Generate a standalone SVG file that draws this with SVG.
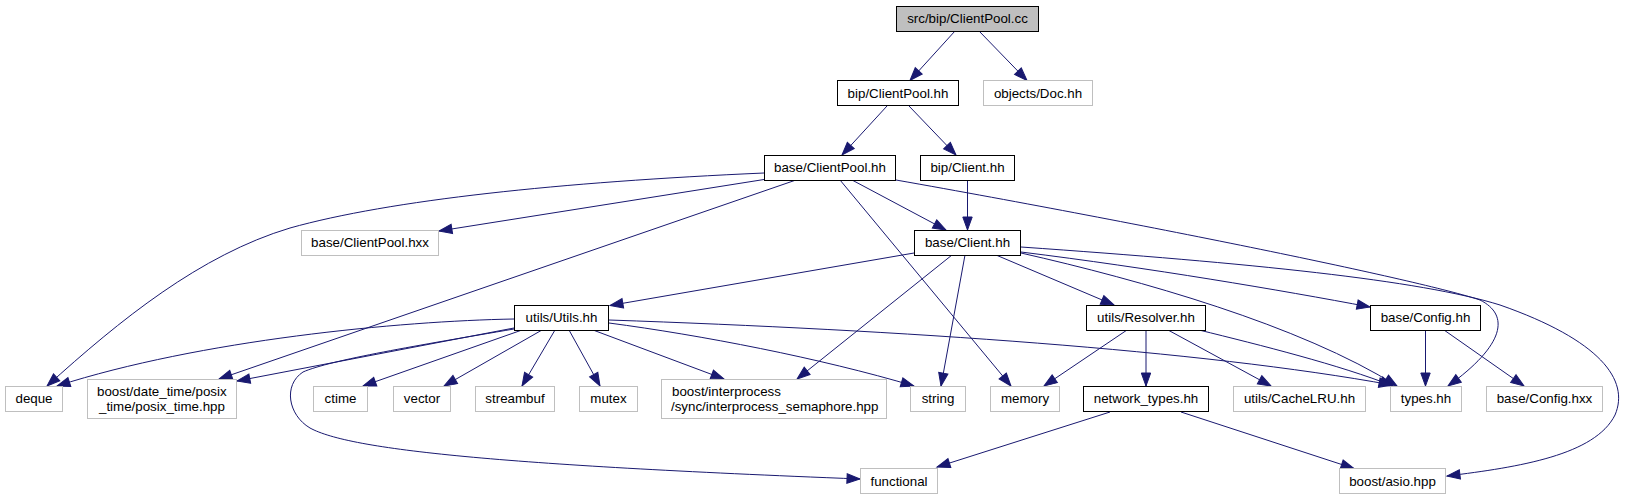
<svg xmlns="http://www.w3.org/2000/svg" width="1628" height="500" viewBox="0 0 1628 500">
<style>
.n rect{fill:#fff;stroke:#000;stroke-width:1}
.u rect{fill:#fff;stroke:#bfbfbf;stroke-width:1}
.root rect{fill:#bfbfbf;stroke:#000;stroke-width:1}
text{font-family:"Liberation Sans",Arial,Helvetica,sans-serif;font-size:13.33px;fill:#000;text-anchor:middle}
text.l{text-anchor:start}
#edges path{fill:none;stroke:#191970;stroke-width:1;marker-end:url(#ah)}
</style>
<defs>
<marker id="ah" markerUnits="userSpaceOnUse" viewBox="0 0 13 9.4" refX="13" refY="4.7" markerWidth="13" markerHeight="9.4" orient="auto" overflow="visible">
<path d="M0,0 L13,4.7 L0,9.4 Z" fill="#191970" stroke="#191970" stroke-width="1"/>
</marker>
</defs>
<rect width="1628" height="500" fill="#fff"/>
<g id="edges">
<path d="M955,31 L910,80.5"/>
<path d="M979,31 L1027,80.5"/>
<path d="M887,106 L842,155"/>
<path d="M909,106 L956,155"/>
<path d="M764,173 C560,182 390,200 290,228 C200,255 120,320 47,386"/>
<path d="M764,179.5 L439,231"/>
<path d="M796,180 L219,379"/>
<path d="M852,180 L946,230"/>
<path d="M840,180 L1011,386"/>
<path d="M896,180 C1150,225 1420,280 1480,300 C1510,315 1505,345 1448,386"/>
<path d="M967.5,180 L967.5,230"/>
<path d="M914,253 L610,305.5"/>
<path d="M952,255 L797,379"/>
<path d="M965,255 L941,386"/>
<path d="M996,255 L1114,305"/>
<path d="M1021,253 C1140,280 1300,325 1397,386"/>
<path d="M1021,252 C1150,268 1280,290 1370,307"/>
<path d="M1021,247 C1250,263 1420,280 1500,305 C1600,340 1630,380 1615,415 C1595,455 1520,467 1447,476"/>
<path d="M1127,330 L1044,386"/>
<path d="M1146,330 L1146,386"/>
<path d="M1168,330 L1271,386"/>
<path d="M1199,330 C1260,345 1340,365 1393,386"/>
<path d="M1425.5,330 L1425.5,386"/>
<path d="M1444,330 L1524,386"/>
<path d="M1110,412 L937,467"/>
<path d="M1181,412 L1354,468.5"/>
<path d="M514,319 C400,321 200,340 57,386"/>
<path d="M514,328 L237,381"/>
<path d="M514,329 C420,345 330,360 303,372 C283,385 288,415 310,428 C350,450 500,465 860,479"/>
<path d="M522,330 L363,386"/>
<path d="M542,330 L444,386"/>
<path d="M555,330 L522,386"/>
<path d="M569,330 L600,386"/>
<path d="M593,330 L724,379"/>
<path d="M609,323 C700,335 820,358 914,386"/>
<path d="M609,320 C900,330 1200,350 1392,385"/>
</g>
<g id="node-src-bip-ClientPool-cc" class="root"><rect x="896.5" y="6.5" width="142" height="25"/><text x="967.5" y="23">src/bip/ClientPool.cc</text></g>
<g id="node-bip-ClientPool-hh" class="n"><rect x="837.5" y="80.5" width="121" height="25"/><text x="898" y="97.5">bip/ClientPool.hh</text></g>
<g id="node-objects-Doc-hh" class="u"><rect x="983.5" y="80.5" width="109" height="25"/><text x="1038" y="97.5">objects/Doc.hh</text></g>
<g id="node-base-ClientPool-hh" class="n"><rect x="764.5" y="155.5" width="131" height="25"/><text x="830" y="172">base/ClientPool.hh</text></g>
<g id="node-bip-Client-hh" class="n"><rect x="920.5" y="155.5" width="94" height="25"/><text x="967.5" y="172">bip/Client.hh</text></g>
<g id="node-base-ClientPool-hxx" class="u"><rect x="301.5" y="230.5" width="137" height="25"/><text x="370" y="247">base/ClientPool.hxx</text></g>
<g id="node-base-Client-hh" class="n"><rect x="914.5" y="230.5" width="106" height="25"/><text x="967.5" y="247">base/Client.hh</text></g>
<g id="node-utils-Utils-hh" class="n"><rect x="514.5" y="305.5" width="94" height="25"/><text x="561.5" y="322">utils/Utils.hh</text></g>
<g id="node-utils-Resolver-hh" class="n"><rect x="1086.5" y="305.5" width="119" height="25"/><text x="1146" y="322">utils/Resolver.hh</text></g>
<g id="node-base-Config-hh" class="n"><rect x="1370.5" y="305.5" width="110" height="25"/><text x="1425.5" y="322">base/Config.hh</text></g>
<g id="node-deque" class="u"><rect x="5.5" y="386.5" width="57" height="25"/><text x="34" y="403">deque</text></g>
<g id="node-boost-date-time" class="u"><rect x="87.5" y="379.5" width="149" height="39"/><text class="l" x="97" y="396">boost/date_time/posix</text><text class="l" x="99" y="410.5">_time/posix_time.hpp</text></g>
<g id="node-ctime" class="u"><rect x="313.5" y="386.5" width="54" height="25"/><text x="340.5" y="403">ctime</text></g>
<g id="node-vector" class="u"><rect x="393.5" y="386.5" width="57" height="25"/><text x="422" y="403">vector</text></g>
<g id="node-streambuf" class="u"><rect x="475.5" y="386.5" width="79" height="25"/><text x="515" y="403">streambuf</text></g>
<g id="node-mutex" class="u"><rect x="579.5" y="386.5" width="58" height="25"/><text x="608.5" y="403">mutex</text></g>
<g id="node-boost-interprocess" class="u"><rect x="661.5" y="379.5" width="225" height="39"/><text class="l" x="672" y="395.5">boost/interprocess</text><text class="l" x="671" y="410.5">/sync/interprocess_semaphore.hpp</text></g>
<g id="node-string" class="u"><rect x="910.5" y="386.5" width="55" height="25"/><text x="938" y="403">string</text></g>
<g id="node-memory" class="u"><rect x="990.5" y="386.5" width="69" height="25"/><text x="1025" y="403">memory</text></g>
<g id="node-network-types-hh" class="n"><rect x="1083.5" y="386.5" width="125" height="25"/><text x="1146" y="403">network_types.hh</text></g>
<g id="node-utils-CacheLRU-hh" class="u"><rect x="1233.5" y="386.5" width="132" height="25"/><text x="1299.5" y="403">utils/CacheLRU.hh</text></g>
<g id="node-types-hh" class="u"><rect x="1390.5" y="386.5" width="71" height="25"/><text x="1426" y="403">types.hh</text></g>
<g id="node-base-Config-hxx" class="u"><rect x="1486.5" y="386.5" width="116" height="25"/><text x="1544.5" y="403">base/Config.hxx</text></g>
<g id="node-functional" class="u"><rect x="860.5" y="468.5" width="77" height="25"/><text x="899" y="485.5">functional</text></g>
<g id="node-boost-asio-hpp" class="u"><rect x="1339.5" y="468.5" width="106" height="25"/><text x="1392.5" y="485.5">boost/asio.hpp</text></g>
</svg>
